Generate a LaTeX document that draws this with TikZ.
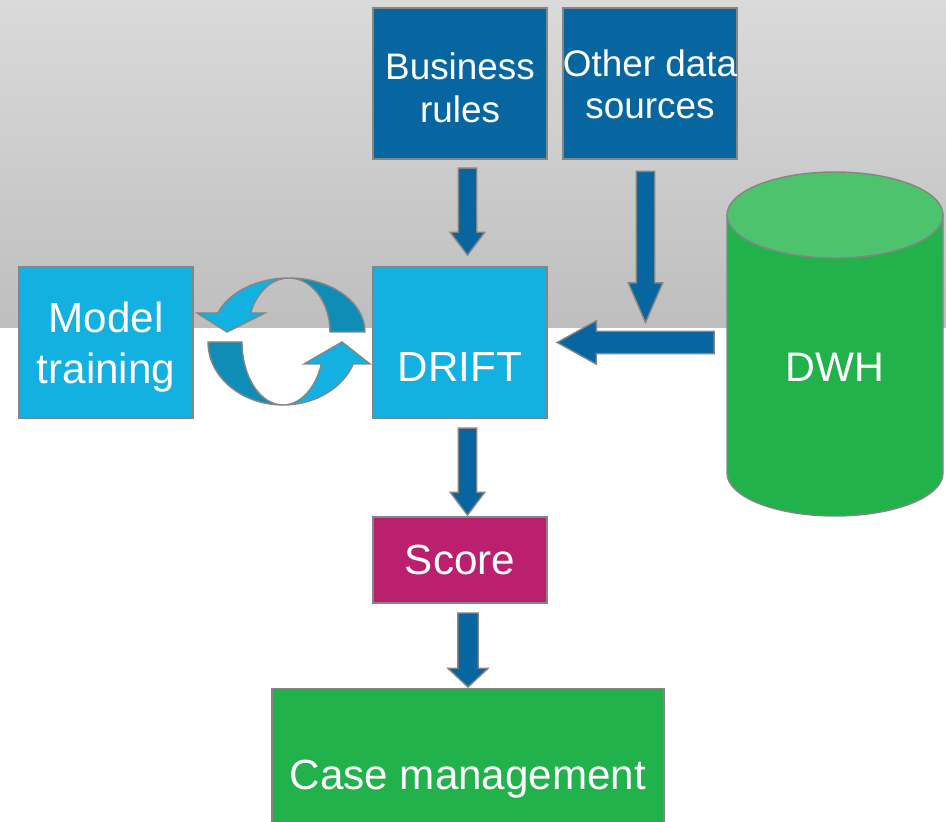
\documentclass[tikz,border=0pt]{standalone}
\usepackage{fontspec}
\setmainfont{Liberation Sans}
\usetikzlibrary{shapes.arrows, calc, positioning}

\definecolor{bandTop}{HTML}{DADADA}
\definecolor{bandBottom}{HTML}{BEBEBE}
\definecolor{srcBlue}{HTML}{0766A0}
\definecolor{coreBlue}{HTML}{13B1E1}
\definecolor{cycleDark}{HTML}{0F8DB7}
\definecolor{scoreMag}{HTML}{BB206E}
\definecolor{caseGreen}{HTML}{22B24C}
\definecolor{dwhTop}{HTML}{4DC36E}
\definecolor{edgeGray}{HTML}{858585}

\begin{document}
\begin{tikzpicture}[
    every node/.style={text=white, font=\fontsize{24}{28}\selectfont},
    box/.style={draw=edgeGray, line width=0.8pt, inner sep=0pt, align=center, minimum width=3.48cm},
    srcbox/.style={box, fill=srcBlue, minimum height=3.02cm, font=\fontsize{21}{24}\selectfont},
    corebox/.style={box, fill=coreBlue, minimum height=3.02cm},
    blockarrow/.style={single arrow, draw=edgeGray, line width=0.8pt, fill=srcBlue,
        inner sep=0.17cm, single arrow head extend=0.16cm, single arrow tip angle=74},
    ring/.style={draw=edgeGray, line width=0.8pt},
]

% === Canvas and grey band ===
\useasboundingbox (0,0) rectangle (18.92,16.42);
\clip (0,0) rectangle (18.92,16.42);
\shade[top color=bandTop, bottom color=bandBottom] (0,9.86) rectangle (18.92,16.42);

% === DWH cylinder ===
\filldraw[fill=caseGreen, draw=edgeGray, line width=0.8pt]
    (14.54,12.12) -- (14.54,6.96)
    arc[start angle=180, end angle=360, x radius=2.16cm, y radius=0.86cm]
    -- (18.86,12.12) -- cycle;
\filldraw[fill=dwhTop, draw=edgeGray, line width=0.8pt]
    (16.70,12.12) ellipse [x radius=2.16cm, y radius=0.86cm];
\node[font=\fontsize{23.5}{28}\selectfont] (dwh) at (16.70,9.08) {DWH};

% === Boxes ===
\node[srcbox, text height=44pt, text depth=0pt] (rules) at (9.20,14.75) {Business\\rules};
\node[srcbox, text height=40pt, text depth=0pt] (sources) at (13.00,14.75) {Other data\\sources};
\node[corebox, text height=44pt, text depth=0pt] (drift) at (9.20,9.57) {DRIFT};
\node[corebox, font=\fontsize{24}{29}\selectfont, text height=52pt, text depth=5pt] (training) at (2.12,9.57) {Model\\training};
\node[box, fill=scoreMag, minimum height=1.72cm] (score) at (9.20,5.22) {Score};
\node[box, fill=caseGreen, minimum width=7.84cm, minimum height=3.6cm, anchor=north] (case) at (9.36,2.66) {Case management};

% === Cycle between training and DRIFT ===
% upper half
\filldraw[ring, fill=cycleDark] (7.30,9.78)
    arc[start angle=0, end angle=90, x radius=1.52cm, y radius=1.08cm]
    arc[start angle=90, end angle=0, x radius=0.82cm, y radius=1.08cm] -- cycle;
\filldraw[ring, fill=coreBlue] (5.78,10.86)
    arc[start angle=90, end angle=159.4, x radius=1.52cm, y radius=1.08cm]
    -- (3.94,10.16) -- (4.54,9.78) -- (5.30,10.16) -- (5.013,10.16)
    arc[start angle=159.4, end angle=90, x radius=0.82cm, y radius=1.08cm] -- cycle;
% lower half
\filldraw[ring, fill=cycleDark] (4.16,9.58)
    arc[start angle=180, end angle=270, x radius=1.50cm, y radius=1.26cm]
    arc[start angle=270, end angle=180, x radius=0.82cm, y radius=1.26cm] -- cycle;
\filldraw[ring, fill=coreBlue] (5.66,8.32)
    arc[start angle=270, end angle=339.6, x radius=1.50cm, y radius=1.26cm]
    -- (7.40,9.14) -- (6.84,9.58) -- (6.08,9.14) -- (6.428,9.14)
    arc[start angle=339.6, end angle=270, x radius=0.82cm, y radius=1.26cm] -- cycle;

% === Block arrows ===
\node[blockarrow, shape border rotate=270, minimum height=1.74cm, anchor=tip]
    (rules2drift) at ([xshift=0.15cm, yshift=0.2cm]drift.north) {};
\node[blockarrow, shape border rotate=270, minimum height=3.02cm, single arrow tip angle=47, anchor=tail]
    (sources2join) at ([xshift=-0.09cm, yshift=-0.22cm]sources.south) {};
\node[blockarrow, shape border rotate=180, minimum height=3.14cm, inner sep=0.21cm,
    single arrow head extend=0.21cm, single arrow tip angle=58, anchor=tip]
    (dwh2drift) at ([xshift=0.16cm]drift.east) {};
\node[blockarrow, shape border rotate=270, minimum height=1.74cm, anchor=tip]
    (drift2score) at ([xshift=0.15cm]score.north) {};
\node[blockarrow, shape border rotate=270, minimum height=1.48cm, inner sep=0.19cm,
    single arrow head extend=0.2cm, single arrow tip angle=94, anchor=tip]
    (score2case) at (case.north) {};

\end{tikzpicture}
\end{document}
